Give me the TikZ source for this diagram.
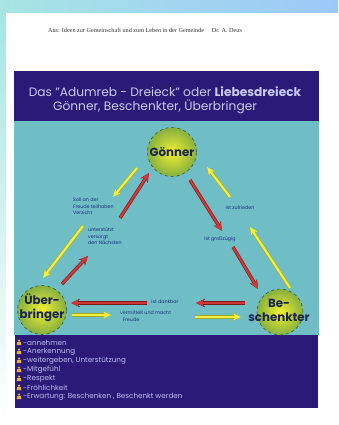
\documentclass[tikz,border=0pt]{standalone}
\usepackage{fontspec}
\setmainfont{Poppins}
\newfontfamily\hdrfont{Liberation Serif}
\usetikzlibrary{arrows.meta}
\definecolor{navybg}{HTML}{2B1A78}
\definecolor{tealbg}{HTML}{6FBEC6}
\definecolor{titletxt}{HTML}{CACAEE}
\definecolor{legtxt}{HTML}{BEBEEA}
\definecolor{lbltxt}{HTML}{1A2A80}
\definecolor{balltxtc}{HTML}{1C2450}
\definecolor{ballin}{HTML}{F2F030}
\definecolor{ballout}{HTML}{86B040}
\definecolor{ballline}{HTML}{3A5A3A}
\definecolor{yfill}{HTML}{F4F040}
\definecolor{yedge}{HTML}{A8A828}
\definecolor{rfill}{HTML}{D03838}
\definecolor{redge}{HTML}{7A1A1A}
\definecolor{iconc}{HTML}{E8B42C}
\definecolor{stripA}{HTML}{A8E4E4}
\definecolor{stripB}{HTML}{9CC8F8}
\begin{document}
\begin{tikzpicture}[x=1pt,y=-1pt,
  ball/.style={circle, minimum size=49pt, inner sep=0pt, shading=radial,
    inner color=ballin, outer color=ballout, draw=ballline, dashed, line width=0.6pt},
  balltxt/.style={font=\bfseries\fontsize{11.8}{14}\selectfont, text=balltxtc, align=center, inner sep=0pt},
  yarr/.style={line width=2.2pt, draw=yfill, -{Stealth[length=8pt,width=7pt]},
    preaction={draw=yedge, line width=3.4pt, -{Stealth[length=9pt,width=8.5pt]}}},
  rarr/.style={line width=2.2pt, draw=rfill, -{Stealth[length=8pt,width=7pt]},
    preaction={draw=redge, line width=3.4pt, -{Stealth[length=9pt,width=8.5pt]}}},
  lbl/.style={font=\fontsize{4.8}{6.5}\selectfont, text=lbltxt, align=left, inner sep=0pt, anchor=north west},
  leg/.style={font=\fontsize{7.2}{8}\selectfont, text=legtxt, inner sep=0pt, anchor=west},
  person/.pic={\fill[iconc] (0,-2.4) circle (1.3); \fill[iconc] (-2.4,2.2) -- (-1.8,-0.8) -- (1.8,-0.8) -- (2.4,2.2) -- cycle;}
]
\useasboundingbox (0,0) rectangle (338,425);
% page background
\shade[left color=stripA, right color=stripB] (0,0) rectangle (338,13);
\shade[top color=stripA, bottom color=white] (0,13) rectangle (6,425);
\fill[white] (6,13) rectangle (338,425);
% header text
\node[font=\hdrfont\fontsize{6.2}{7}\selectfont, text=black!80, inner sep=0pt] (hdr) at (145,30)
  {Aus: Ideen zur Gemeinschaft und zum Leben in der Gemeinde \quad Dr. A. Deus};
% panels
\fill[navybg] (14,71) rectangle (319,121);
\fill[tealbg] (14,121) rectangle (319,335);
\fill[navybg] (15,335) rectangle (318,408);
% title
\node[font=\fontsize{12.2}{14}\selectfont, text=titletxt, inner sep=0pt] (t1) at (165,92)
  {Das "Adumreb - Dreieck" oder \textbf{Liebesdreieck}};
\node[font=\fontsize{12.2}{14}\selectfont, text=titletxt, inner sep=0pt] (t2) at (155,107)
  {Gönner, Beschenkter, Überbringer};
% circles
\node[ball] (g) at (172,152) {};
\node[ball] (u) at (42,310) {};
\node[ball, minimum size=46pt] (b) at (280,312) {};
\node[balltxt] (gt) at (172,152) {Gönner};
\node[balltxt] (ut) at (42,308) {Über-\\bringer};
\node[balltxt] (bt) at (279,310) {Be-\\schenkter};
% arrow end points
\coordinate (y1a) at (137,168); \coordinate (y1b) at (113,197);
\coordinate (y2a) at (83,226);  \coordinate (y2b) at (43,278);
\coordinate (y3a) at (72,315);  \coordinate (y3b) at (111,315);
\coordinate (y4a) at (195,317); \coordinate (y4b) at (241,317);
\coordinate (y5a) at (290,288); \coordinate (y5b) at (250,227);
\coordinate (y6a) at (230,197); \coordinate (y6b) at (207,167);
\coordinate (r1a) at (120,218); \coordinate (r1b) at (149,173);
\coordinate (r2a) at (62,284);  \coordinate (r2b) at (88,256);
\coordinate (r3a) at (147,303); \coordinate (r3b) at (71,303);
\coordinate (r4a) at (245,303); \coordinate (r4b) at (196,303);
\coordinate (r5a) at (190,180); \coordinate (r5b) at (222,231);
\coordinate (r6a) at (233,247); \coordinate (r6b) at (258,289);
\draw[yarr] (y1a) -- (y1b);
\draw[yarr] (y2a) -- (y2b);
\draw[yarr] (y3a) -- (y3b);
\draw[yarr] (y4a) -- (y4b);
\draw[yarr] (y5a) -- (y5b);
\draw[yarr] (y6a) -- (y6b);
\draw[rarr] (r1a) -- (r1b);
\draw[rarr] (r2a) -- (r2b);
\draw[rarr] (r3a) -- (r3b);
\draw[rarr] (r4a) -- (r4b);
\draw[rarr] (r5a) -- (r5b);
\draw[rarr] (r6a) -- (r6b);
% labels
\node[lbl] (l1) at (73,198) {Soll an der\\Freude teilhaben\\Verzicht};
\node[lbl] (l2) at (88,228) {unterstützt\\versorgt\\den Nächsten};
\node[lbl, anchor=center] (l3) at (240,208) {ist zufrieden};
\node[lbl, anchor=center] (l4) at (220,239) {ist großzügig};
\node[lbl, anchor=center] (l5) at (165,302) {ist dankbar};
\node[lbl] (l6) at (120,311) {vermittelt und macht\\\ \ Freude};
% legend
\pic (i1) at (19,343) {person};
\pic (i2) at (19,352) {person};
\pic (i3) at (19,361) {person};
\pic (i4) at (19,370) {person};
\pic (i5) at (19,379) {person};
\pic (i6) at (19,388) {person};
\pic (i7) at (19,397) {person};
\node[leg] (g1) at (23,343) {-annehmen};
\node[leg] (g2) at (23,352) {-Anerkennung};
\node[leg] (g3) at (23,361) {-weitergeben, Unterstützung};
\node[leg] (g4) at (23,370) {-Mitgefühl};
\node[leg] (g5) at (23,379) {-Respekt};
\node[leg] (g6) at (23,388) {-Fröhlichkeit};
\node[leg] (g7) at (23,397) {-Erwartung: Beschenken , Beschenkt werden};
\end{tikzpicture}
\end{document}
